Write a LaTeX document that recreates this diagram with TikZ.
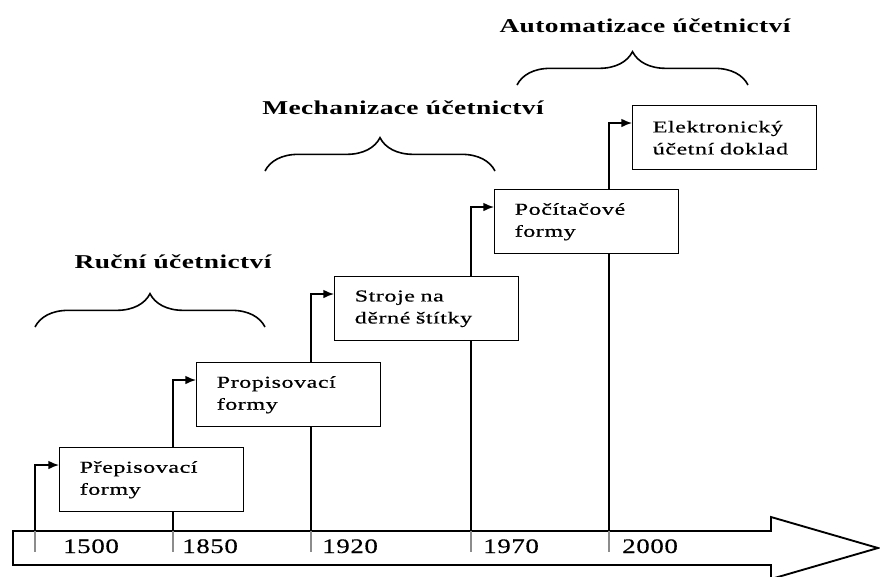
\documentclass[tikz,border=0pt]{standalone}
\usepackage{fontspec}
\setmainfont{Liberation Serif}
\newfontfamily\boxfont{Liberation Serif}[FakeStretch=1.45,LetterSpace=3,FakeBold=0.4]
\newfontfamily\yearfont{Liberation Serif}[FakeStretch=1.3,LetterSpace=3,FakeBold=0.4]
\newfontfamily\erafont{Liberation Serif}[FakeStretch=1.4,LetterSpace=2]
\usetikzlibrary{arrows.meta,decorations.pathreplacing,backgrounds}
\tikzset{
  stagebox/.style = {draw=black, line width=1.1pt, fill=white, anchor=north west, minimum width=138pt, minimum height=48pt, inner xsep=15pt, inner ysep=0pt, text width=108pt, align=left, font=\boxfont\fontsize{12.5}{16.5}\selectfont},
  yearlabel/.style = {anchor=base west, inner sep=0pt, font=\yearfont\fontsize{15.5}{18}\selectfont},
  eralabel/.style = {anchor=base, inner sep=0pt, font=\erafont\bfseries\fontsize{14.7}{17}\selectfont},
  erabrace/.style = {line width=1.2pt, decorate, decoration={brace, amplitude=25pt}},
  stagelink/.style = {line width=1.1pt, -{Latex[length=8pt,width=6.5pt]}},
  axisarrow/.style = {line width=1.4pt, line join=miter},
}

\begin{document}
\begin{tikzpicture}[x=0.75pt,y=-0.75pt]
\useasboundingbox (0,0) rectangle (880,576);

% boxes
\node [stagebox] (b1) at (59,447) {P\v{r}episovac\'{\i}\\formy};
\node [stagebox] (b2) at (196,362) {Propisovac\'{\i}\\formy};
\node [stagebox] (b3) at (334,276) {Stroje na\\d\v{e}rn\'{e} \v{s}t\'{\i}tky};
\node [stagebox] (b4) at (494,189) {Po\v{c}\'{\i}ta\v{c}ov\'{e}\\formy};
\node [stagebox] (b5) at (632,105) {Elektronick\'{y}\\\'{u}\v{c}etn\'{\i}~doklad};

% time axis
\begin{scope}[on background layer]
\draw [axisarrow] (13,531) -- (771,531) -- (771,517) -- (878,548) -- (771,579) -- (771,565) -- (13,565) -- cycle;
\foreach \i/\x/\yr/\tx in {1/35/1500/63, 2/173/1850/182, 3/311/1920/322, 4/471/1970/483, 5/609/2000/622}{
  \coordinate (f\i) at (\x,531);
  \draw [black!45, line width=1.1pt] (f\i) -- (\x,552);
  \draw [stagelink] (f\i) |- ([yshift=-13.5pt]b\i.north west);
  \node [yearlabel] (yr\i) at (\tx,553) {\yr};
}
\end{scope}

% eras
\draw [erabrace] (35,327) -- (265,327);
\draw [erabrace] (265,171) -- (495,171);
\draw [erabrace] (517,85) -- (748,85);
\node [eralabel] (era1) at (173,268) {Ru\v{c}n\'{\i} \'{u}\v{c}etnictv\'{\i}};
\node [eralabel] (era2) at (403,114) {Mechanizace \'{u}\v{c}etnictv\'{\i}};
\node [eralabel] (era3) at (645,32) {Automatizace \'{u}\v{c}etnictv\'{\i}};
\end{tikzpicture}
\end{document}
